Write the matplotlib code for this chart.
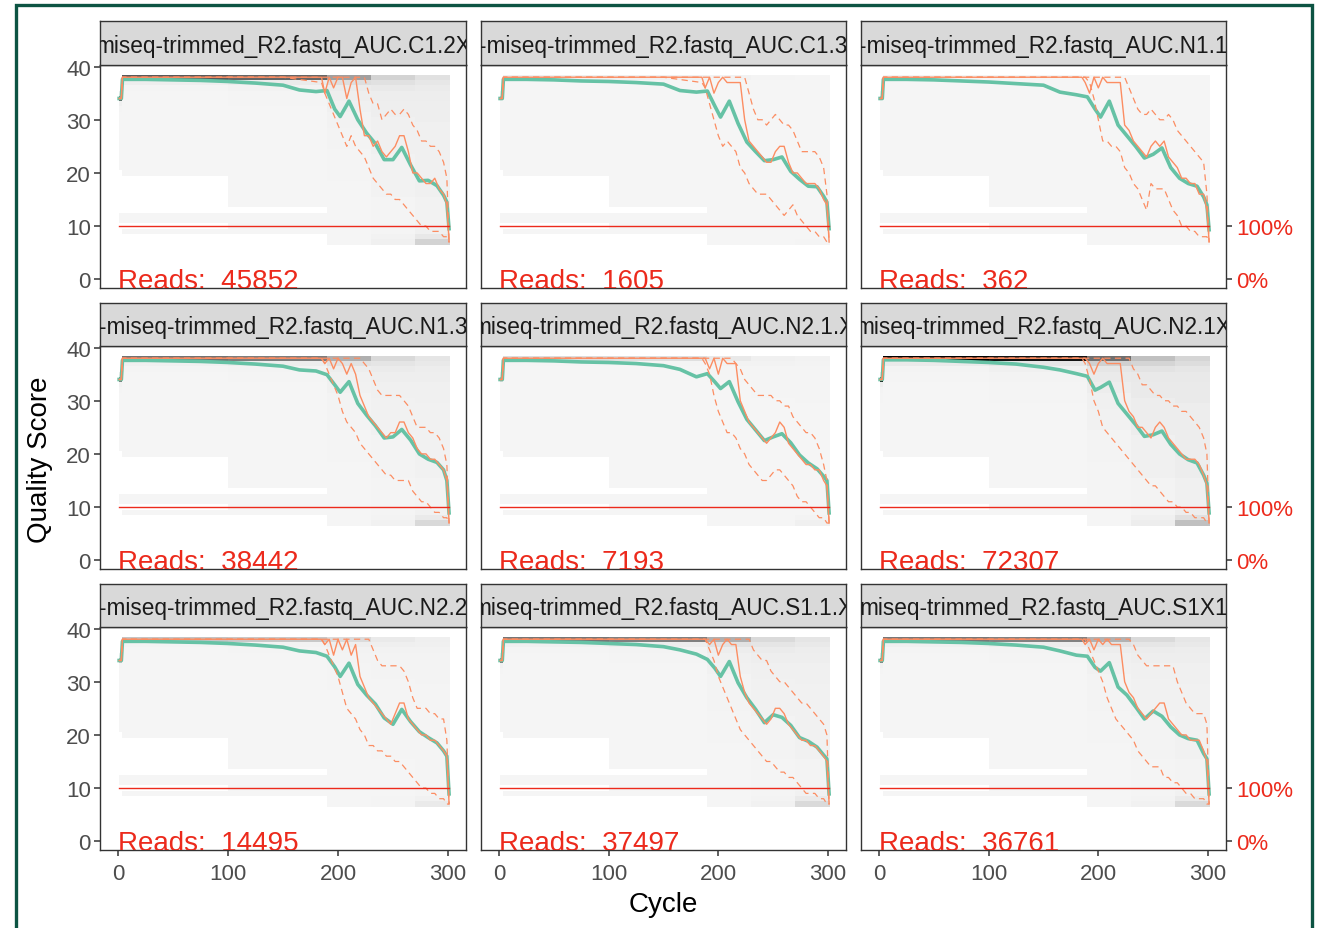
import numpy as np
import matplotlib
matplotlib.use("Agg")
import matplotlib.pyplot as plt
from matplotlib.colors import LinearSegmentedColormap, Normalize
from matplotlib.patches import Rectangle

plt.rcParams['font.family'] = ['Liberation Sans', 'DejaVu Sans']

# ---------------- data ----------------
SAMPLES = ["miseq-trimmed_R2.fastq_AUC.C1.2X", "-miseq-trimmed_R2.fastq_AUC.C1.3",
           "-miseq-trimmed_R2.fastq_AUC.N1.1", "-miseq-trimmed_R2.fastq_AUC.N1.3",
           "miseq-trimmed_R2.fastq_AUC.N2.1.X", "miseq-trimmed_R2.fastq_AUC.N2.1X",
           "-miseq-trimmed_R2.fastq_AUC.N2.2", "miseq-trimmed_R2.fastq_AUC.S1.1.X",
           "miseq-trimmed_R2.fastq_AUC.S1X1"]
READS = [45852, 1605, 362, 38442, 7193, 72307, 14495, 37497, 36761]

# mean quality score
MEAN_CYCLES = [1, 3, 4, 25, 50, 75, 100, 125, 150, 165, 180, 190, 197, 202, 210, 218,
               226, 234, 242, 250, 258, 266, 274, 282, 290, 296, 299, 301]
MEAN_1 = [34, 34, 37.6, 37.6, 37.5, 37.4, 37.2, 36.9, 36.5, 35.6, 35.3, 35.5, 32, 30.6, 33.5, 30,
          27.5, 25.5, 22.5, 22.5, 24.8, 21.5, 18.5, 18.6, 17.6, 15.8, 14.5, 9.5]
MEAN_2 = [34, 34, 37.6, 37.6, 37.5, 37.3, 37.2, 37.0, 36.7, 35.5, 35.2, 35.4, 32.5, 30.5, 33.5, 29.3,
          25.8, 24.0, 22.3, 22.5, 23.0, 20.3, 18.8, 17.5, 17.4, 15.6, 14.5, 9.5]
MEAN_3 = [34, 34, 37.6, 37.6, 37.5, 37.3, 37.1, 36.8, 36.5, 35.2, 34.7, 34.3, 32, 30.5, 33.5, 29,
          27, 25, 22.8, 23.5, 24.7, 21, 19, 18, 17.5, 15.5, 14, 9.3]
MEAN_4 = [34, 34, 37.6, 37.6, 37.5, 37.4, 37.2, 36.9, 36.5, 35.8, 35.6, 34.9, 33, 31.6, 33.6, 29.5,
          27.3, 25.3, 23, 23.2, 24.6, 22.6, 20, 19, 18.4, 17, 15, 8.9]
MEAN_5 = [34, 34, 37.6, 37.6, 37.5, 37.3, 37.2, 37.0, 36.6, 35.9, 34.5, 35.1, 33.5, 32.3, 33.6, 29.8,
          26.5, 24.5, 22.5, 23.2, 23.8, 22.1, 19.8, 18.3, 17.2, 15.8, 15, 8.9]
MEAN_6 = [34, 34, 37.7, 37.7, 37.6, 37.4, 37.2, 36.9, 36.3, 35.8, 35.1, 34.6, 32, 32.5, 33.5, 29.5,
          27.5, 25.5, 23.3, 23.6, 24.3, 21.8, 20, 18.9, 18.3, 16, 14.5, 8.9]
MEAN_7 = [34, 34, 37.6, 37.6, 37.5, 37.4, 37.2, 36.9, 36.5, 35.8, 35.5, 34.8, 32.8, 31, 33.5, 29.5,
          27.5, 25.8, 23.2, 22, 24.8, 22.5, 20.6, 19.5, 18.5, 17, 16, 8.9]
MEAN_8 = [34, 34, 37.6, 37.6, 37.5, 37.4, 37.2, 37.0, 36.6, 36, 35.2, 34.2, 32.5, 31, 33.8, 29.8,
          27, 24.8, 22.3, 23.8, 23.3, 21.8, 19.5, 18.8, 17.7, 16.2, 15.5, 8.9]
MEAN_9 = [34, 34, 37.6, 37.6, 37.5, 37.4, 37.2, 36.9, 36.5, 35.8, 35, 34.8, 32.7, 32, 33.6, 29,
          27.5, 25.3, 23, 24.5, 23.5, 21.5, 20, 19.3, 19, 16.5, 15.5, 8.9]

# median / quartiles
Q_CYCLES = [1, 3, 4, 150, 185, 188, 192, 196, 200, 204, 208, 212, 216, 220, 224, 228, 232, 236,
            240, 244, 248, 252, 256, 260, 264, 268, 272, 276, 280, 284, 288, 292, 296, 299, 301]
MED_1 = [34, 34, 38, 38, 38, 35, 38, 36, 38, 38, 34, 37, 38, 32, 27, 27, 25, 26, 24, 23, 24, 25, 27,
         27, 24, 20, 20, 19, 18, 18, 19, 17, 16, 14, 7]
Q25_1 = [34, 34, 38, 38, 37, 35, 33, 31, 29, 27, 25, 27, 25, 24, 23, 21, 19, 18, 17, 16, 16, 15, 15,
         14, 13, 12, 11, 10, 10, 9, 9, 9, 8, 8, 7]
Q75_1 = [34, 34, 38, 38, 38, 38, 38, 38, 38, 38, 38, 38, 38, 38, 38, 35, 33, 33, 30, 31, 32, 31, 31,
         32, 31, 29, 28, 26, 26, 25, 25, 24, 22, 19, 7]
MED_2 = [34, 34, 38, 38, 38, 36, 38, 35, 37, 38, 37, 37, 37, 37, 30, 26, 25, 24, 23, 22, 22, 24, 25,
         25, 22, 20, 20, 19, 18, 18, 18, 17, 15, 14, 7]
Q25_2 = [34, 34, 38, 38, 37, 36, 33, 30, 27, 25, 26, 25, 24, 21, 20, 18, 17, 16, 16, 16, 15, 14, 13,
         12, 13, 14, 12, 11, 10, 9, 9, 8, 8, 7, 7]
Q75_2 = [34, 34, 38, 38, 38, 38, 38, 38, 38, 38, 38, 38, 38, 38, 38, 35, 32, 30, 30, 29, 30, 31, 30,
         29, 29, 28, 26, 24, 24, 24, 24, 23, 21, 16, 7]
MED_3 = [34, 34, 38, 38, 38, 37, 35, 38, 36, 38, 37, 37, 37, 37, 29, 28, 26, 25, 24, 23, 25, 26, 25,
         26, 23, 22, 21, 19, 19, 18, 18, 16, 16, 13, 7]
Q25_3 = [34, 34, 38, 38, 38, 38, 37, 34, 30, 26, 26, 25, 25, 24, 21, 20, 18, 17, 15, 13, 18, 17, 17,
         17, 15, 13, 12, 10, 10, 9, 9, 8, 8, 8, 7]
Q75_3 = [34, 34, 38, 38, 38, 38, 38, 38, 38, 38, 38, 38, 38, 38, 38, 36, 34, 32, 31, 31, 32, 31, 30,
         30, 31, 30, 28, 27, 26, 25, 24, 23, 22, 16, 7]
MED_4 = [34, 34, 38, 38, 38, 37, 38, 36, 38, 37, 35, 37, 35, 31, 29, 27, 26, 25, 24, 23, 24, 24, 26,
         26, 24, 23, 21, 20, 20, 19, 19, 18, 17, 15, 7]
Q25_4 = [34, 34, 38, 38, 38, 37, 35, 33, 31, 28, 26, 25, 24, 22, 21, 20, 19, 18, 17, 16, 16, 15, 15,
         15, 15, 13, 12, 11, 11, 10, 9, 9, 8, 8, 7]
Q75_4 = [34, 34, 38, 38, 38, 38, 38, 38, 38, 38, 38, 38, 38, 38, 37, 36, 34, 32, 31, 31, 31, 31, 31,
         30, 29, 27, 25, 25, 25, 24, 24, 23, 21, 18, 7]
MED_5 = [34, 34, 38, 38, 38, 38, 36, 38, 35, 38, 37, 37, 37, 30, 28, 26, 25, 24, 23, 22, 23, 24, 26,
         25, 22, 21, 20, 19, 18, 18, 17, 17, 15, 14, 7]
Q25_5 = [34, 34, 38, 38, 38, 37, 35, 31, 28, 26, 24, 24, 23, 21, 20, 18, 17, 16, 15, 15, 16, 17, 17,
         16, 15, 14, 12, 11, 11, 10, 9, 8, 8, 7, 7]
Q75_5 = [34, 34, 38, 38, 38, 38, 38, 38, 38, 38, 38, 38, 37, 36, 34, 33, 32, 31, 31, 31, 31, 30, 30,
         29, 29, 27, 26, 25, 24, 24, 23, 21, 18, 15, 7]
MED_6 = [34, 34, 38, 38, 38, 38, 37, 35, 37, 38, 37, 37, 37, 37, 30, 28, 27, 25, 25, 24, 23, 25, 26,
         25, 23, 22, 21, 20, 19, 19, 19, 18, 16, 14, 7]
Q25_6 = [34, 34, 38, 38, 38, 37, 34, 30, 28, 25, 24, 23, 22, 21, 20, 19, 18, 17, 16, 15, 14, 14, 13,
         12, 11, 11, 10, 10, 9, 9, 8, 8, 8, 7, 7]
Q75_6 = [34, 34, 38, 38, 38, 38, 38, 38, 38, 38, 38, 38, 38, 38, 38, 38, 36, 35, 33, 33, 32, 31, 31,
         30, 30, 29, 29, 28, 28, 27, 26, 25, 23, 20, 7]
MED_7 = [34, 34, 38, 38, 38, 37, 38, 35, 38, 36, 38, 35, 37, 31, 29, 27, 26, 25, 24, 23, 22, 24, 26,
         26, 23, 22, 21, 20, 20, 19, 19, 18, 17, 16, 7]
Q25_7 = [34, 34, 38, 38, 38, 37, 35, 33, 31, 28, 25, 24, 23, 21, 20, 18, 18, 17, 17, 16, 16, 15, 15,
         14, 13, 12, 11, 10, 10, 9, 9, 8, 8, 7, 7]
Q75_7 = [34, 34, 38, 38, 38, 38, 38, 38, 38, 38, 38, 38, 38, 38, 38, 38, 36, 34, 33, 33, 33, 33, 33,
         32, 30, 27, 25, 25, 25, 24, 24, 23, 23, 19, 7]
MED_8 = [34, 34, 38, 38, 38, 38, 37, 38, 35, 37, 38, 37, 37, 31, 28, 26, 25, 24, 23, 22, 23, 25, 25,
         24, 22, 21, 20, 19, 19, 18, 18, 17, 16, 15, 7]
Q25_8 = [34, 34, 38, 38, 38, 38, 36, 34, 31, 29, 27, 25, 23, 21, 20, 19, 18, 17, 16, 15, 15, 14, 13,
         13, 12, 12, 11, 10, 9, 9, 9, 8, 8, 7, 7]
Q75_8 = [34, 34, 38, 38, 38, 38, 38, 38, 38, 38, 38, 38, 38, 38, 38, 38, 36, 35, 34, 34, 32, 31, 30,
         30, 29, 28, 27, 26, 26, 25, 24, 23, 22, 20, 7]
MED_9 = [34, 34, 38, 38, 38, 37, 38, 36, 38, 37, 38, 37, 37, 37, 30, 28, 27, 25, 24, 23, 24, 25, 26,
         26, 23, 22, 21, 20, 20, 19, 19, 19, 17, 15, 7]
Q25_9 = [34, 34, 38, 38, 38, 38, 36, 34, 32, 30, 27, 25, 23, 22, 21, 20, 19, 17, 16, 15, 14, 14, 14,
         12, 12, 11, 11, 10, 9, 9, 8, 8, 8, 7, 7]
Q75_9 = [34, 34, 38, 38, 38, 38, 38, 38, 38, 38, 38, 38, 38, 38, 38, 38, 37, 35, 34, 33, 33, 33, 33,
         33, 33, 33, 30, 28, 26, 25, 24, 24, 24, 22, 7]

# cumulative share of reads reaching each cycle (percent)
PCT_CYCLES = [1, 301]
PCT_VALUES = [100, 100]

# quality-score occupancy (percent of reads) per score and cycle range
SEG_EDGES = [0.5, 3.5, 100, 190, 230, 270, 301.5]
TILE_SCORES = list(range(38, 6, -1))
TILE_PCT = [
    [0, 92, 85, 50, 20, 12],    # 38
    [0, 4, 6, 14, 12, 9],       # 37
    [0, 1, 2, 6, 7, 6],         # 36
    [3, 0.5, 1, 4, 5, 5],       # 35
    [90, 0.5, 1, 4, 5, 5],      # 34
    [3, 0.3, 0.6, 3, 4, 4],     # 33
    [1, 0.3, 0.5, 3, 4, 4],     # 32
    [0.5, 0.2, 0.4, 2, 4, 4],   # 31
    [0.5, 0.2, 0.4, 2, 3, 4],   # 30
    [0.3, 0.1, 0.3, 2, 3, 3],   # 29
    [0.3, 0.1, 0.3, 1.5, 3, 3], # 28
    [0.3, 0.1, 0.3, 1.5, 3, 3], # 27
    [0.2, 0.1, 0.3, 1.5, 3, 3], # 26
    [0.2, 0.1, 0.2, 1.5, 3, 3], # 25
    [0.2, 0.1, 0.2, 1, 3, 3],   # 24
    [0.2, 0.1, 0.2, 1, 2, 3],   # 23
    [0.2, 0.1, 0.2, 1, 2, 3],   # 22
    [0.1, 0.1, 0.2, 1, 2, 3],   # 21
    [0, 0.05, 0.1, 1, 2, 3],    # 20
    [0, 0, 0.1, 1, 2, 3],       # 19
    [0, 0, 0.1, 0.5, 2, 3],     # 18
    [0, 0, 0.1, 0.5, 2, 3],     # 17
    [0, 0, 0.05, 0.5, 2, 3],    # 16
    [0, 0, 0.05, 0.5, 1, 2],    # 15
    [0, 0, 0.05, 0.5, 1, 2],    # 14
    [0, 0, 0, 0.5, 1, 2],       # 13
    [0.1, 0.05, 0.1, 0.5, 1, 2],# 12
    [0.1, 0.05, 0.1, 0.5, 1, 2],# 11
    [0, 0, 0.05, 0.3, 1, 2],    # 10
    [0, 0.02, 0.05, 0.3, 1, 3], # 9
    [0, 0, 0, 0.3, 2, 8],       # 8
    [0, 0, 0, 0.2, 3, 20],      # 7
]

X_TICKS = [0, 100, 200, 300]
Y_TICKS = [0, 10, 20, 30, 40]

MEANS = [MEAN_1, MEAN_2, MEAN_3, MEAN_4, MEAN_5, MEAN_6, MEAN_7, MEAN_8, MEAN_9]
MEDS = [MED_1, MED_2, MED_3, MED_4, MED_5, MED_6, MED_7, MED_8, MED_9]
Q25S = [Q25_1, Q25_2, Q25_3, Q25_4, Q25_5, Q25_6, Q25_7, Q25_8, Q25_9]
Q75S = [Q75_1, Q75_2, Q75_3, Q75_4, Q75_5, Q75_6, Q75_7, Q75_8, Q75_9]

# ---------------- layout ----------------
W, H = 1317, 929
fig = plt.figure(figsize=(W / 100, H / 100), dpi=100)
fig.patch.set_facecolor('white')

COL_L = [100, 481, 861]
COL_R = [466, 846, 1226]
ROW_T = [66, 347, 628]
ROW_B = [289, 570, 851]
STRIP_T = [22, 304, 585]

RED = '#EC2A1C'
EDGE = '#333333'
TICKLAB = '#4D4D4D'

cmap = LinearSegmentedColormap.from_list('cnt', ['#F5F5F5', '#000000'])
pct = np.array(TILE_PCT, dtype=float)
vmax = max(READS) * pct.max() / 100.0
norm = Normalize(vmin=0, vmax=vmax)
y_edges = np.array(TILE_SCORES[::-1] + [TILE_SCORES[0] + 1]) - 0.5

for i in range(9):
    r, c = divmod(i, 3)
    l, rr, t, b = COL_L[c], COL_R[c], ROW_T[r], ROW_B[r]
    ax = fig.add_axes([l / W, 1 - b / H, (rr - l) / W, (b - t) / H])
    ax.set_facecolor('white')

    counts = pct[::-1] * READS[i] / 100.0
    counts = np.ma.masked_where(pct[::-1] <= 0, counts)
    ax.pcolormesh(SEG_EDGES, y_edges, counts, cmap=cmap, norm=norm,
                  shading='flat', edgecolor='none', antialiased=False)

    ax.plot(MEAN_CYCLES, MEANS[i], color='#66C2A5', lw=2.6, solid_joinstyle='round', zorder=3)
    ax.plot(Q_CYCLES, Q25S[i], color='#FC8D62', lw=0.9, ls=(0, (5, 3.5)), zorder=4)
    ax.plot(Q_CYCLES, Q75S[i], color='#FC8D62', lw=0.9, ls=(0, (5, 3.5)), zorder=4)
    ax.plot(Q_CYCLES, MEDS[i], color='#FC8D62', lw=1.0, zorder=4)
    ax.plot(PCT_CYCLES, np.array(PCT_VALUES) / 10.0, color=RED, lw=1.0, zorder=5)

    ax.text(0, -1.62, f"Reads:  {READS[i]}", color=RED, fontsize=20,
            ha='left', va='baseline', clip_on=True, zorder=6)

    ax.set_xlim(-16.4, 316.4)
    ax.set_ylim(-1.65, 40.3)
    ax.set_xticks(X_TICKS)
    ax.set_yticks(Y_TICKS)
    ax.tick_params(axis='both', length=4, width=1.1, color=EDGE, labelcolor=TICKLAB,
                   labelsize=16, pad=2.5)
    ax.tick_params(axis='x', pad=5.5)
    if c != 0:
        ax.tick_params(axis='y', left=False, labelleft=False)
    if r != 2:
        ax.tick_params(axis='x', bottom=False, labelbottom=False)
    for s in ax.spines.values():
        s.set_color(EDGE)
        s.set_linewidth(1.0)

    if c == 2:
        sec = ax.secondary_yaxis('right')
        sec.set_yticks([0, 10])
        sec.set_yticklabels(['0%', '100%'])
        sec.tick_params(length=4, width=1.1, color=EDGE, labelcolor=RED, labelsize=16, pad=3.5)
        sec.spines['right'].set_visible(False)

    # strip
    sax = fig.add_axes([l / W, 1 - t / H, (rr - l) / W, (t - STRIP_T[r]) / H])
    sax.set_facecolor('#D9D9D9')
    sax.set_xticks([])
    sax.set_yticks([])
    for s in sax.spines.values():
        s.set_color(EDGE)
        s.set_linewidth(1.0)
    sax.text(0.5, 0.45, SAMPLES[i], transform=sax.transAxes, ha='center', va='center',
             fontsize=16.3, color='#1A1A1A', clip_on=True)

fig.text(40 / W, 1 - 460 / H, 'Quality Score', rotation=90, fontsize=20,
         ha='center', va='center', color='black')
fig.text(663 / W, 1 - 905 / H, 'Cycle', fontsize=20, ha='center', va='center', color='black')

frame = Rectangle((15.5 / W, -0.05), (1311.5 - 15.5) / W, 1.05 - 5.5 / H,
                  transform=fig.transFigure, fill=False, edgecolor='#0D5443', lw=2.4,
                  clip_on=False)
fig.patches.append(frame)

fig.savefig('out.png', dpi=100, facecolor='white')
